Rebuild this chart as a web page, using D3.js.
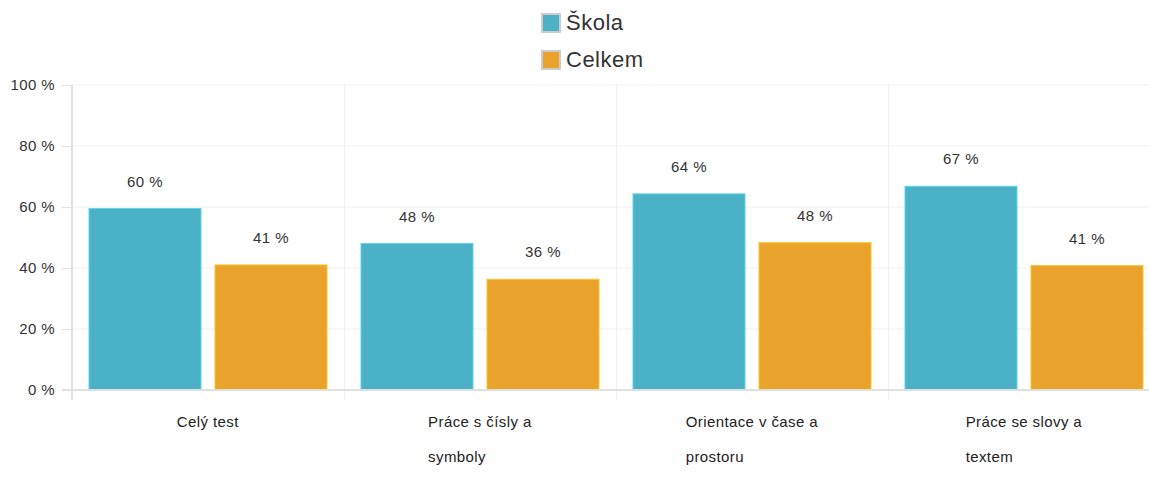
<!DOCTYPE html>
<html>
<head>
<meta charset="utf-8">
<script src="https://cdn.jsdelivr.net/npm/d3@7"></script>
<style>
  body { margin: 0; background: #fff; font-family: "Liberation Sans", Arial, sans-serif; }
  svg { display: block; }
</style>
</head>
<body>
<div id="chart"></div>
<script>
var categories = ["Celý test", "Práce s čísly a symboly", "Orientace v čase a prostoru", "Práce se slovy a textem"];
var categoryLines = [["Celý test"], ["Práce s čísly a", "symboly"], ["Orientace v čase a", "prostoru"], ["Práce se slovy a", "textem"]];
var seriesNames = ["Škola", "Celkem"];
var skolaValues = [59.5, 48, 64.3, 66.8];
var celkemValues = [41, 36.3, 48.3, 40.8];
var yTicks = [0, 20, 40, 60, 80, 100];
var colors = ["#4bb1c6", "#e9a32b"];

var width = 1149, height = 486;
var margin = {top: 85, left: 72, bottom: 96};
var plotBottom = height - margin.bottom;

var svg = d3.select("#chart").append("svg")
    .attr("width", width)
    .attr("height", height);

var x = d3.scaleBand()
    .domain(categories)
    .range([margin.left, margin.left + 272 * 4]);

var xSub = d3.scaleBand()
    .domain(seriesNames)
    .range([0, x.bandwidth()])
    .paddingInner(0.111)
    .paddingOuter(0.135);

var y = d3.scaleLinear()
    .domain([0, 100])
    .range([plotBottom, margin.top]);

// horizontal grid
svg.append("g").selectAll("line")
    .data(yTicks.slice(1))
    .enter().append("line")
    .attr("x1", margin.left).attr("x2", width)
    .attr("y1", function(d) { return y(d); })
    .attr("y2", function(d) { return y(d); })
    .attr("stroke", "#f0f0f0")
    .attr("stroke-width", 1);

// vertical grid at band edges
svg.append("g").selectAll("line")
    .data(categories.slice(1))
    .enter().append("line")
    .attr("x1", function(d) { return x(d) + 0.5; })
    .attr("x2", function(d) { return x(d) + 0.5; })
    .attr("y1", margin.top).attr("y2", plotBottom + 10)
    .attr("stroke", "#f0f0f0")
    .attr("stroke-width", 1);

// Y axis
var yAxis = svg.append("g")
    .attr("transform", "translate(" + margin.left + ",0)")
    .call(d3.axisLeft(y).tickValues(yTicks).tickSize(10).tickPadding(7)
        .tickFormat(function(d) { return d + " %"; }));
yAxis.select(".domain").remove();
yAxis.selectAll(".tick line").attr("stroke", "#e0e0e0");
yAxis.selectAll(".tick text")
    .attr("fill", "#333")
    .style("font-size", "15px")
    .style("letter-spacing", "0.4px")
    .style("font-family", "Liberation Sans, Arial, sans-serif");
svg.append("line")
    .attr("x1", margin.left).attr("x2", margin.left)
    .attr("y1", margin.top).attr("y2", plotBottom + 10)
    .attr("stroke", "#e0e0e0").attr("stroke-width", 2);

// bars
var groups = svg.append("g").selectAll("g")
    .data(categories)
    .enter().append("g")
    .attr("transform", function(d) { return "translate(" + x(d) + ",0)"; });

var barData = function(d, i) {
    return [
        {series: seriesNames[0], value: skolaValues[i], color: colors[0]},
        {series: seriesNames[1], value: celkemValues[i], color: colors[1]}
    ];
};

groups.selectAll("rect")
    .data(barData)
    .enter().append("rect")
    .attr("x", function(d) { return xSub(d.series); })
    .attr("y", function(d) { return y(d.value); })
    .attr("width", xSub.bandwidth())
    .attr("height", function(d) { return plotBottom - y(d.value); })
    .attr("fill", function(d) { return d.color; })
    .attr("stroke", function(d) { return d3.color(d.color).brighter(0.5); })
    .attr("stroke-width", 1);

groups.selectAll("text.val")
    .data(barData)
    .enter().append("text")
    .attr("class", "val")
    .attr("x", function(d) { return xSub(d.series) + xSub.bandwidth() / 2; })
    .attr("y", function(d) { return y(d.value) - 22; })
    .attr("text-anchor", "middle")
    .attr("fill", "#333")
    .style("font-size", "15px")
    .style("letter-spacing", "0.4px")
    .text(function(d) { return Math.round(d.value) + " %"; });

// bottom axis line
svg.append("line")
    .attr("x1", margin.left - 10).attr("x2", width)
    .attr("y1", plotBottom).attr("y2", plotBottom)
    .attr("stroke", "#e0e0e0").attr("stroke-width", 2);

// category labels (left-aligned block centred in band)
categories.forEach(function(c, i) {
    var t = svg.append("text")
        .attr("fill", "#222")
        .style("font-size", "15px")
        .style("letter-spacing", "0.4px");
    categoryLines[i].forEach(function(line, j) {
        t.append("tspan").attr("x", 0).attr("y", plotBottom + 37 + j * 35).text(line);
    });
    var w = t.node().getBBox().width;
    t.selectAll("tspan").attr("x", x(c) + x.bandwidth() / 2 - w / 2);
});

// legend
var legend = svg.append("g").selectAll("g")
    .data(seriesNames)
    .enter().append("g")
    .attr("transform", function(d, i) { return "translate(541," + (13 + i * 37) + ")"; });
legend.append("rect")
    .attr("x", 1).attr("y", 1)
    .attr("width", 18).attr("height", 18)
    .attr("fill", function(d, i) { return colors[i]; })
    .attr("stroke", "#ccc").attr("stroke-width", 2);
legend.append("text")
    .attr("x", 25).attr("y", 17)
    .attr("fill", "#333")
    .style("font-size", "22px")
    .style("letter-spacing", "0.5px")
    .text(function(d) { return d; });
</script>
</body>
</html>
